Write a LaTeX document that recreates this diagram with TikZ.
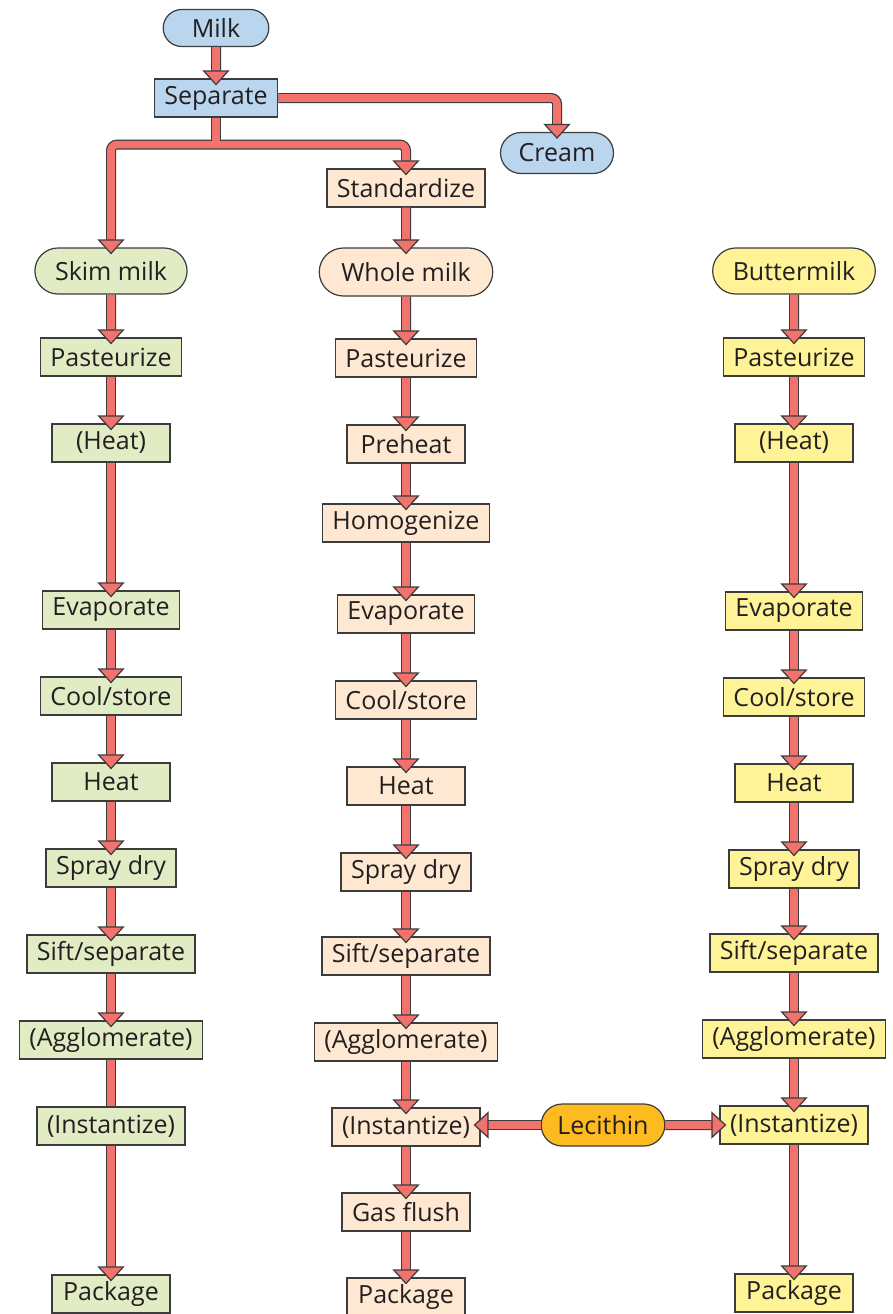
\documentclass[tikz,border=0pt]{standalone}
\usepackage{fontspec}
\setmainfont{Open Sans}
\usetikzlibrary{arrows.meta, positioning, calc, shapes.misc}
\definecolor{edgegray}{HTML}{3C3C3C}
\definecolor{pipered}{HTML}{F2736D}
\definecolor{fillblue}{HTML}{B9D6EE}
\definecolor{fillgreen}{HTML}{E1EBC4}
\definecolor{fillpeach}{HTML}{FEE8D1}
\definecolor{fillyellow}{HTML}{FFF398}
\definecolor{fillorange}{HTML}{FDBB1F}
\definecolor{textdark}{HTML}{231F20}

\begin{document}
\begin{tikzpicture}[
  x=1pt, y=-1pt,
  node distance=86pt, on grid,
  stepbox/.style={rectangle, draw=edgegray, fill=#1, text=textdark, line width=1.2pt, minimum width=118pt, minimum height=38pt, inner xsep=10pt, inner ysep=2.5pt, font=\fontsize{25}{29}\selectfont},
  source/.style={rounded rectangle, draw=edgegray, fill=#1, text=textdark, line width=1.2pt, minimum height=44pt, inner xsep=18pt, font=\fontsize{25}{29}\selectfont},
  pipe/.style={draw=edgegray, line width=1.2pt, double=pipered, double distance=7.6pt, -{Triangle[width=27pt, length=15pt, fill=pipered, line width=1.2pt]}, shorten >=-7pt},
  plainpipe/.style={draw=edgegray, line width=1.2pt, double=pipered, double distance=7.6pt},
]
  \useasboundingbox (0,0) rectangle (892,1314);

  % Top
  \node[source=fillblue, minimum height=37pt, inner xsep=26pt] (milk) at (216,28) {Milk};
  \node[stepbox=fillblue, below=70pt of milk] (sep) {Separate};
  \node[source=fillblue, minimum height=41pt, inner xsep=16pt] (cream) at (557,153) {Cream};
  \node[stepbox=fillpeach] (std) at (406,188) {Standardize};
  \coordinate[below=27pt of sep.south] (split);

  % Skim milk column
  \node[source=fillgreen, minimum height=46pt] (skim) at (111,271) {Skim milk};
  \node[stepbox=fillgreen, below=of skim] (lpast) {Pasteurize};
  \node[stepbox=fillgreen, below=of lpast] (lheata) {(Heat)};
  \node[stepbox=fillgreen, below=167pt of lheata] (levap) {Evaporate};
  \node[stepbox=fillgreen, below=of levap] (lcool) {Cool/store};
  \node[stepbox=fillgreen, below=of lcool] (lheatb) {Heat};
  \node[stepbox=fillgreen, below=of lheatb] (lspray) {Spray dry};
  \node[stepbox=fillgreen, below=of lspray] (lsift) {Sift/separate};
  \node[stepbox=fillgreen, below=of lsift] (lagg) {(Agglomerate)};
  \node[stepbox=fillgreen, below=of lagg] (linst) {(Instantize)};
  \node[stepbox=fillgreen, below=168pt of linst] (lpack) {Package};

  % Whole milk column
  \node[source=fillpeach, minimum height=48pt, inner xsep=20pt] (whole) at (406,272) {Whole milk};
  \node[stepbox=fillpeach, below=of whole] (mpast) {Pasteurize};
  \node[stepbox=fillpeach, below=of mpast] (mpre) {Preheat};
  \node[stepbox=fillpeach, below=79pt of mpre] (mhom) {Homogenize};
  \node[stepbox=fillpeach, below=91pt of mhom] (mevap) {Evaporate};
  \node[stepbox=fillpeach, below=of mevap] (mcool) {Cool/store};
  \node[stepbox=fillpeach, below=of mcool] (mheat) {Heat};
  \node[stepbox=fillpeach, below=of mheat] (mspray) {Spray dry};
  \node[stepbox=fillpeach, below=84pt of mspray] (msift) {Sift/separate};
  \node[stepbox=fillpeach, below=of msift] (magg) {(Agglomerate)};
  \node[stepbox=fillpeach, below=85pt of magg] (minst) {(Instantize)};
  \node[stepbox=fillpeach, below=85pt of minst] (mgas) {Gas flush};
  \node[stepbox=fillpeach, below=85pt of mgas] (mpack) {Package};

  % Buttermilk column
  \node[source=fillyellow, minimum height=46pt] (butter) at (794,271) {Buttermilk};
  \node[stepbox=fillyellow, below=of butter] (rpast) {Pasteurize};
  \node[stepbox=fillyellow, below=of rpast] (rheata) {(Heat)};
  \node[stepbox=fillyellow, below=168pt of rheata] (revap) {Evaporate};
  \node[stepbox=fillyellow, below=of revap] (rcool) {Cool/store};
  \node[stepbox=fillyellow, below=of rcool] (rheatb) {Heat};
  \node[stepbox=fillyellow, below=of rheatb] (rspray) {Spray dry};
  \node[stepbox=fillyellow, below=84pt of rspray] (rsift) {Sift/separate};
  \node[stepbox=fillyellow, below=of rsift] (ragg) {(Agglomerate)};
  \node[stepbox=fillyellow, below=of ragg] (rinst) {(Instantize)};
  \node[stepbox=fillyellow, below=168pt of rinst] (rpack) {Package};

  \node[source=fillorange, minimum height=42pt, inner xsep=14pt] (lec) at (603,1125) {Lecithin};

  % Separation
  \draw[pipe] (milk) -- (sep);
  \draw[pipe, rounded corners=6pt] (sep.east) -| (cream.north);
  \draw[pipe, rounded corners=6pt] (split) -| (skim.north);
  \draw[pipe, rounded corners=6pt] (split) -| (std.north);
  \draw[plainpipe, shorten >=3.8pt] (sep.south) -- (split);
  \draw[pipe] (std) -- (whole);

  % Skim milk line
  \draw[pipe] (skim) -- (lpast);
  \draw[pipe] (lpast) -- (lheata);
  \draw[pipe] (lheata) -- (levap);
  \draw[pipe] (levap) -- (lcool);
  \draw[pipe] (lcool) -- (lheatb);
  \draw[pipe] (lheatb) -- (lspray);
  \draw[pipe] (lspray) -- (lsift);
  \draw[pipe] (lsift) -- (lagg);
  \draw[plainpipe] (lagg) -- (linst);
  \draw[pipe] (linst) -- (lpack);

  % Whole milk line
  \draw[pipe] (whole) -- (mpast);
  \draw[pipe] (mpast) -- (mpre);
  \draw[pipe] (mpre) -- (mhom);
  \draw[pipe] (mhom) -- (mevap);
  \draw[pipe] (mevap) -- (mcool);
  \draw[pipe] (mcool) -- (mheat);
  \draw[pipe] (mheat) -- (mspray);
  \draw[pipe] (mspray) -- (msift);
  \draw[pipe] (msift) -- (magg);
  \draw[pipe] (magg) -- (minst);
  \draw[pipe] (minst) -- (mgas);
  \draw[pipe] (mgas) -- (mpack);

  % Buttermilk line
  \draw[pipe] (butter) -- (rpast);
  \draw[pipe] (rpast) -- (rheata);
  \draw[pipe] (rheata) -- (revap);
  \draw[pipe] (revap) -- (rcool);
  \draw[pipe] (rcool) -- (rheatb);
  \draw[pipe] (rheatb) -- (rspray);
  \draw[pipe] (rspray) -- (rsift);
  \draw[pipe] (rsift) -- (ragg);
  \draw[pipe] (ragg) -- (rinst);
  \draw[pipe] (rinst) -- (rpack);

  % Lecithin feed
  \draw[pipe] (lec) -- (lec -| minst.east);
  \draw[pipe] (lec) -- (lec -| rinst.west);
\end{tikzpicture}
\end{document}
